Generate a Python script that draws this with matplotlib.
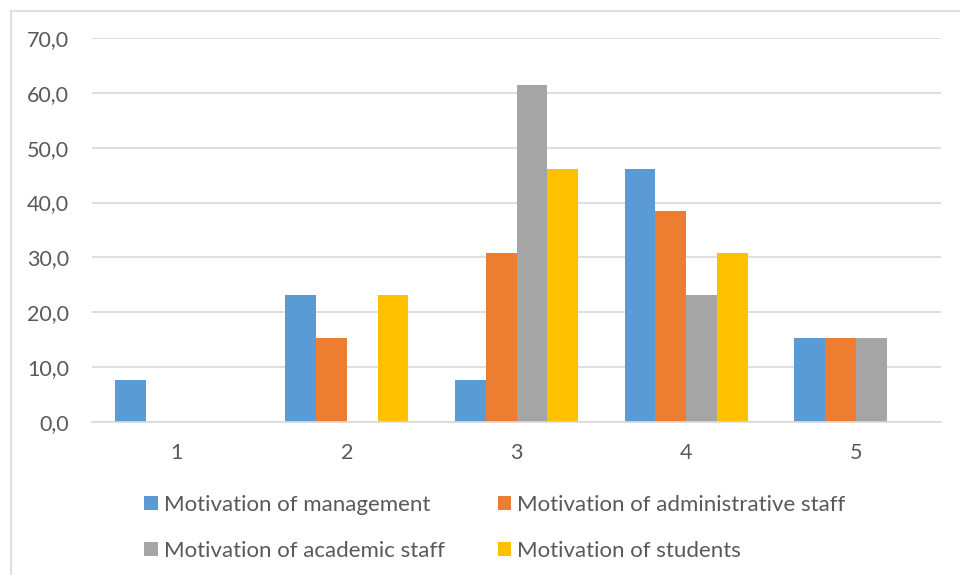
import matplotlib
matplotlib.use("Agg")
import matplotlib.pyplot as plt
import numpy as np
from matplotlib.ticker import FuncFormatter, MultipleLocator
from matplotlib.patches import Patch
from matplotlib.lines import Line2D

plt.rcParams['font.family'] = ['Lato', 'DejaVu Sans']

categories = ["1", "2", "3", "4", "5"]
series_names = [
    "Motivation of management",
    "Motivation of administrative staff",
    "Motivation of academic staff",
    "Motivation of students",
]
management = [7.7, 23.1, 7.7, 46.2, 15.4]
administrative = [0.0, 15.4, 30.8, 38.5, 15.4]
academic = [0.0, 0.0, 61.5, 23.1, 15.4]
students = [0.0, 23.1, 46.2, 30.8, 0.0]
colors = ["#5B9BD5", "#ED7D31", "#A5A5A5", "#FFC000"]

W, H = 960, 575
fig = plt.figure(figsize=(W / 100, H / 100), dpi=100)

# outer chart frame (left and top edges visible)
fig.add_artist(Line2D([10.5 / W, 10.5 / W], [0, 1 - 10.5 / H],
                      transform=fig.transFigure, color="#D9D9D9", lw=1.2))
fig.add_artist(Line2D([10.5 / W, 1], [1 - 10.5 / H, 1 - 10.5 / H],
                      transform=fig.transFigure, color="#D9D9D9", lw=1.2))

left, right, top, bottom = 92, 941, 38, 422
ax = fig.add_axes([left / W, 1 - bottom / H, (right - left) / W, (bottom - top) / H])

data = [management, administrative, academic, students]
n = len(data)
x = np.arange(len(categories))
bw = 1.0 / (n + 1.5)
for i, (vals, c) in enumerate(zip(data, colors)):
    ax.bar(x + (i - (n - 1) / 2) * bw, vals, width=bw, color=c, zorder=3,
           linewidth=0)

ax.set_xlim(-0.5, len(categories) - 0.5)
ax.set_ylim(0, 70)
ax.yaxis.set_major_locator(MultipleLocator(10))
ax.yaxis.set_major_formatter(FuncFormatter(lambda v, p: f"{v:.1f}".replace(".", ",")))
ax.set_xticks(x)
ax.set_xticklabels(categories)
ax.grid(axis="y", color="#D9D9D9", lw=1.2, zorder=0)
for s in ["top", "right", "left"]:
    ax.spines[s].set_visible(False)
ax.spines["bottom"].set_color("#D9D9D9")
ax.spines["bottom"].set_linewidth(1.2)
ax.spines["bottom"].set_zorder(4)
ax.tick_params(axis="both", length=0, labelsize=15.5, labelcolor="#595959")
ax.tick_params(axis="y", pad=16.5)
ax.tick_params(axis="x", pad=15)

handles = [Patch(facecolor=c, edgecolor="none") for c in colors]
order = [0, 2, 1, 3]
leg = fig.legend([handles[i] for i in order], [series_names[i] for i in order],
                 ncol=2, loc="center", bbox_to_anchor=(495 / W, 1 - 528 / H),
                 frameon=False, fontsize=16, handlelength=0.6, handleheight=0.6,
                 handletextpad=0.27, columnspacing=2.4, labelspacing=1.15,
                 borderpad=0, borderaxespad=0)
for t in leg.get_texts():
    t.set_color("#595959")

fig.savefig("out.png", dpi=100, facecolor="white")
